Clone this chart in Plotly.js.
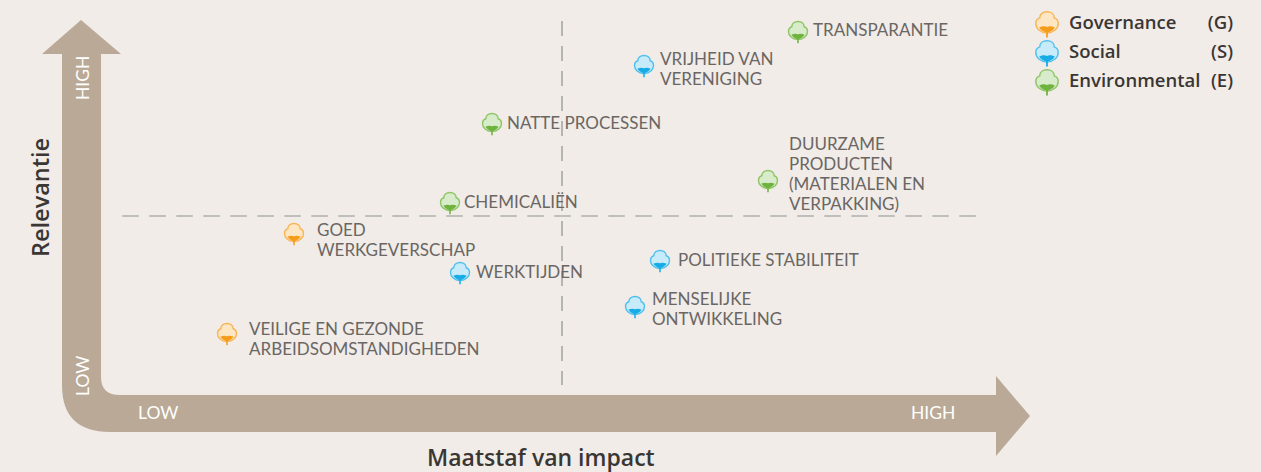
<!DOCTYPE html>
<html><head><meta charset="utf-8">
<script src="https://cdn.plot.ly/plotly-3.0.1.min.js"></script>
<style>html,body{margin:0;padding:0;background:#f1ece8}#c{width:1261px;height:472px}</style>
</head><body><div id="c"></div>
<script>
// Issues (impact / relevance in chart units)
const issueImpact = [798,644,492,768,450,294,460,660,635,227];
const issueRelevance = [31,65,123,180,202,233,272,260,306,333];
const issueGroup = ["E","S","E","E","E","G","S","S","S","G"];
// Label lines, one entry per printed line
const labelText = ["TRANSPARANTIE","VRIJHEID VAN","VERENIGING","NATTE PROCESSEN","DUURZAME","PRODUCTEN","(MATERIALEN EN","VERPAKKING)","CHEMICALIËN","GOED","WERKGEVERSCHAP","WERKTIJDEN","POLITIEKE STABILITEIT","MENSELIJKE","ONTWIKKELING","VEILIGE EN GEZONDE","ARBEIDSOMSTANDIGHEDEN"];
const labelImpact = [813,660,660,507,789,789,789,789,464,317,317,476,678,652,652,249,249];
const labelRelevance = [32,61,81,125,146,166,186,206,204,232,252,274,262,301,321,331,351];

const groupKeys = ["G","S","E"];
const groupNames = ["Governance","Social","Environmental"];
const groupCodes = ["(G)","(S)","(E)"];
const groupLegendY = [23,52,81];
const groupLabelY = [24,53,82];
const legendIconX = 1047, legendTextX = 1069, legendCodeX = 1233;
const groupDark = {G:"#f59d1b",S:"#18ace6",E:"#6fb33f"};
const groupOutline = {G:"#f8b452",S:"#4fc0ee",E:"#8dc465"};
const groupLight = {G:"#fde6c4",S:"#c8ebf9",E:"#d8ebcb"};

const W = 1261, H = 472;
const bg = "#f1ece8", arrow = "#baa996", dashColor = "#adb0ac", textColor = "#6a6663", darkText = "#3a3634";
const splitX = 562, splitY = 216;
const bodyFont = "Lato, 'Open Sans', sans-serif";
const headFont = "'Open Sans', Lato, sans-serif";

function pt(s,x,y){return (x*s).toFixed(2)+","+(-y*s).toFixed(2);}
function cloud(s){
  return "M"+pt(s,0,9)+" C"+pt(s,-6,8.5)+" "+pt(s,-10,5)+" "+pt(s,-10,0.5)+
    " C"+pt(s,-10,-2.5)+" "+pt(s,-8,-4)+" "+pt(s,-6.5,-4.5)+
    " C"+pt(s,-6.5,-8)+" "+pt(s,-3.5,-10)+" "+pt(s,0,-10)+
    " C"+pt(s,3.5,-10)+" "+pt(s,6.5,-8)+" "+pt(s,6.5,-4.5)+
    " C"+pt(s,8,-4)+" "+pt(s,10,-2.5)+" "+pt(s,10,0.5)+
    " C"+pt(s,10,5)+" "+pt(s,6,8.5)+" "+pt(s,0,9)+" Z";
}
function boll(s){
  return "M"+pt(s,-7,4)+" C"+pt(s,-4,2.5)+" "+pt(s,-1.5,2.5)+" "+pt(s,0,3.5)+
    " C"+pt(s,1.5,2.5)+" "+pt(s,4,2.5)+" "+pt(s,7,4)+
    " C"+pt(s,5.5,6.5)+" "+pt(s,3,8)+" "+pt(s,0.8,8.3)+" L"+pt(s,0.8,13)+" L"+pt(s,-0.8,13)+" L"+pt(s,-0.8,8.3)+
    " C"+pt(s,-3,8)+" "+pt(s,-5.5,6.5)+" "+pt(s,-7,4)+" Z";
}
function iconShapes(x,y,g,s){
  const base = {type:"path",xref:"x",yref:"y",xsizemode:"pixel",ysizemode:"pixel",xanchor:x,yanchor:y,layer:"above"};
  return [
    Object.assign({},base,{path:cloud(s),fillcolor:groupLight[g],line:{color:groupOutline[g],width:1.4}}),
    Object.assign({},base,{path:boll(s),fillcolor:groupDark[g],line:{width:0}})
  ];
}

const shapes = [];
shapes.push({type:"path",xref:"x",yref:"y",layer:"below",fillcolor:arrow,line:{width:0},
  path:"M81,20 L121,54 L101,54 L101,377 Q101,395 120,395 L996,395 L996,376 L1030,416 L996,456 L996,432 L110,432 Q62,432 62,385 L62,54 L42,54 Z"});
shapes.push({type:"line",xref:"x",yref:"y",layer:"below",x0:splitX,x1:splitX,y0:21,y1:385,line:{color:dashColor,width:1.8,dash:"15px,10px"}});
shapes.push({type:"line",xref:"x",yref:"y",layer:"below",x0:122.3,x1:976,y0:splitY,y1:splitY,line:{color:dashColor,width:1.4,dash:"16.5px,10.5px"}});
issueImpact.forEach((x,i)=>shapes.push(...iconShapes(x,issueRelevance[i],issueGroup[i],0.95)));
groupKeys.forEach((g,i)=>shapes.push(...iconShapes(legendIconX,groupLegendY[i],g,1.12)));

const traces = [
 {type:"scatter",mode:"text",x:labelImpact,y:labelRelevance,text:labelText,textposition:"middle right",
  textfont:{family:bodyFont,size:17,color:textColor,weight:400},hoverinfo:"text",showlegend:false},
 {type:"scatter",mode:"text",x:groupNames.map(()=>legendTextX),y:groupLabelY,text:groupNames,textposition:"middle right",
  textfont:{family:headFont,size:18.5,color:darkText,weight:600},hoverinfo:"skip",showlegend:false},
 {type:"scatter",mode:"text",x:groupCodes.map(()=>legendCodeX),y:groupLabelY,text:groupCodes,textposition:"middle left",
  textfont:{family:headFont,size:18.5,color:darkText,weight:600},hoverinfo:"skip",showlegend:false}
];
function note(text,x,y,size,color,angle,weight,family){
  return {text:text,x:x,y:y,xref:"x",yref:"y",showarrow:false,xanchor:"center",yanchor:"middle",textangle:angle||0,
    font:{family:family||bodyFont,size:size,color:color,weight:weight||400}};
}
const annotations = [
 note("HIGH",82,78,17.5,"#ffffff",-90),
 note("LOW",82,376,17.5,"#ffffff",-90),
 note("LOW",158,412,17.5,"#ffffff"),
 note("HIGH",933,412,17.5,"#ffffff"),
 note("Relevantie",40,198,23.5,darkText,-90,600,headFont),
 note("Maatstaf van impact",541,457,23,darkText,0,600,headFont)
];
Plotly.newPlot("c",traces,{
  width:W,height:H,margin:{l:0,r:0,t:0,b:0},paper_bgcolor:bg,plot_bgcolor:bg,showlegend:false,
  xaxis:{range:[0,W],visible:false,fixedrange:true},
  yaxis:{range:[H,0],visible:false,fixedrange:true},
  shapes:shapes,annotations:annotations
},{displayModeBar:false,staticPlot:true});
</script></body></html>
